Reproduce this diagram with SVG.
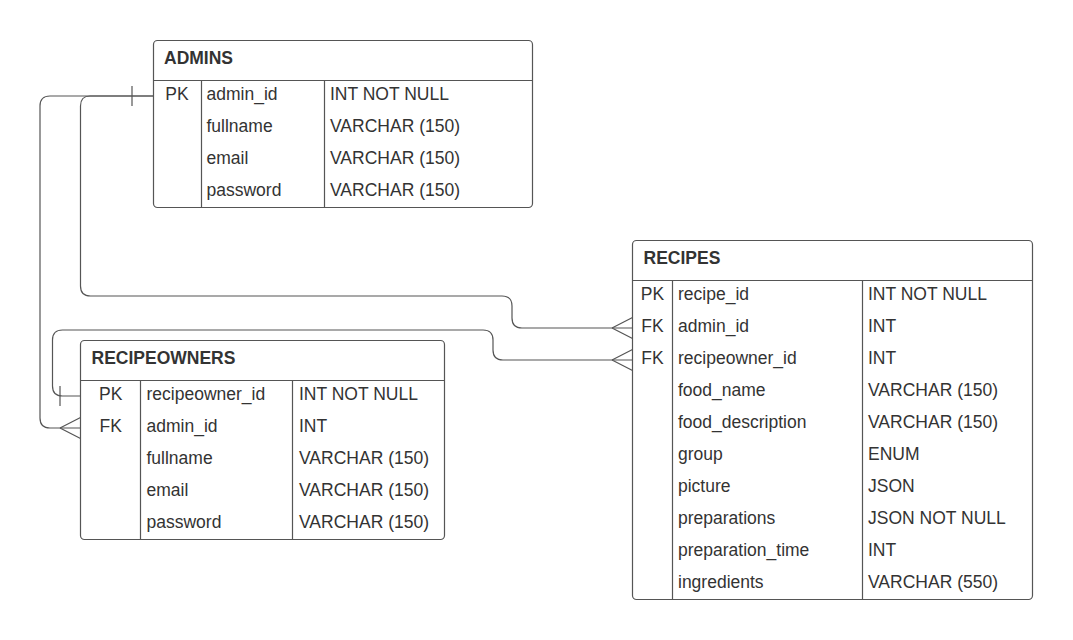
<svg xmlns="http://www.w3.org/2000/svg" width="1073" height="640" viewBox="0 0 1073 640">
<style>
.box{fill:#fff;stroke:#555;stroke-width:1.2}
.sep{stroke:#555;stroke-width:1.2;fill:none}
.t{font-family:"Liberation Sans",Arial,sans-serif;font-size:17.5px;fill:#333}
.h{font-family:"Liberation Sans",Arial,sans-serif;font-size:17.5px;font-weight:bold;fill:#333}
.k{text-anchor:middle}
.c{fill:none;stroke:#555;stroke-width:1.2}
</style>
<rect width="1073" height="640" fill="#fff"/>
<g id="connectors">
  <!-- ADMINS.admin_id -> RECIPEOWNERS.admin_id -->
  <path class="c" d="M153,96 H50 Q40,96 40,106 V418 Q40,428 50,428 H80.5"/>
  <path class="c" d="M60,428 L80.5,417.5 M60,428 L80.5,438.5"/>
  <!-- ADMINS.admin_id -> RECIPES.admin_id -->
  <path class="c" d="M153,96 H90 Q80.5,96 80.5,106 V286 Q80.5,296 90.5,296 H502 Q512,296 512,306 V318 Q512,328 522,328 H632.5"/>
  <path class="c" d="M612,328 L632.5,317.5 M612,328 L632.5,338.5"/>
  <path class="c" d="M132,86 V106"/>
  <!-- RECIPEOWNERS.recipeowner_id -> RECIPES.recipeowner_id -->
  <path class="c" d="M80.5,396 H62.5 Q52.5,396 52.5,386 V340 Q52.5,330 62.5,330 H483 Q493,330 493,340 V350 Q493,360 503,360 H632.5"/>
  <path class="c" d="M60,386 V406"/>
  <path class="c" d="M612,360 L632.5,349.5 M612,360 L632.5,370.5"/>
</g>
<g id="admins">
  <rect class="box" x="153.5" y="40.5" width="379" height="167" rx="4"/>
  <path class="sep" d="M153.5,80.5 H532.5 M201.5,80.5 V207.5 M324.5,80.5 V207.5"/>
  <text class="h" x="164" y="64">ADMINS</text>
  <text class="t k" x="177" y="100">PK</text>
  <text class="t" x="206.5" y="100">admin_id</text>
  <text class="t" x="330" y="100">INT NOT NULL</text>
  <text class="t" x="206.5" y="132">fullname</text>
  <text class="t" x="330" y="132">VARCHAR (150)</text>
  <text class="t" x="206.5" y="164">email</text>
  <text class="t" x="330" y="164">VARCHAR (150)</text>
  <text class="t" x="206.5" y="196">password</text>
  <text class="t" x="330" y="196">VARCHAR (150)</text>
</g>
<g id="recipeowners">
  <rect class="box" x="80.5" y="340.5" width="364" height="199" rx="4"/>
  <path class="sep" d="M80.5,380.5 H444.5 M140.5,380.5 V539.5 M292.5,380.5 V539.5"/>
  <text class="h" x="91.5" y="364">RECIPEOWNERS</text>
  <text class="t k" x="110.7" y="400">PK</text>
  <text class="t" x="146.5" y="400">recipeowner_id</text>
  <text class="t" x="299" y="400">INT NOT NULL</text>
  <text class="t k" x="110.7" y="432">FK</text>
  <text class="t" x="146.5" y="432">admin_id</text>
  <text class="t" x="299" y="432">INT</text>
  <text class="t" x="146.5" y="464">fullname</text>
  <text class="t" x="299" y="464">VARCHAR (150)</text>
  <text class="t" x="146.5" y="496">email</text>
  <text class="t" x="299" y="496">VARCHAR (150)</text>
  <text class="t" x="146.5" y="528">password</text>
  <text class="t" x="299" y="528">VARCHAR (150)</text>
</g>
<g id="recipes">
  <rect class="box" x="632.5" y="240.5" width="400" height="359" rx="4"/>
  <path class="sep" d="M632.5,280.5 H1032.5 M672.5,280.5 V599.5 M862.5,280.5 V599.5"/>
  <text class="h" x="643.5" y="264">RECIPES</text>
  <text class="t k" x="652.5" y="300">PK</text>
  <text class="t" x="678" y="300">recipe_id</text>
  <text class="t" x="868" y="300">INT NOT NULL</text>
  <text class="t k" x="652.5" y="332">FK</text>
  <text class="t" x="678" y="332">admin_id</text>
  <text class="t" x="868" y="332">INT</text>
  <text class="t k" x="652.5" y="364">FK</text>
  <text class="t" x="678" y="364">recipeowner_id</text>
  <text class="t" x="868" y="364">INT</text>
  <text class="t" x="678" y="396">food_name</text>
  <text class="t" x="868" y="396">VARCHAR (150)</text>
  <text class="t" x="678" y="428">food_description</text>
  <text class="t" x="868" y="428">VARCHAR (150)</text>
  <text class="t" x="678" y="460">group</text>
  <text class="t" x="868" y="460">ENUM</text>
  <text class="t" x="678" y="492">picture</text>
  <text class="t" x="868" y="492">JSON</text>
  <text class="t" x="678" y="524">preparations</text>
  <text class="t" x="868" y="524">JSON NOT NULL</text>
  <text class="t" x="678" y="556">preparation_time</text>
  <text class="t" x="868" y="556">INT</text>
  <text class="t" x="678" y="588">ingredients</text>
  <text class="t" x="868" y="588">VARCHAR (550)</text>
</g>
</svg>
